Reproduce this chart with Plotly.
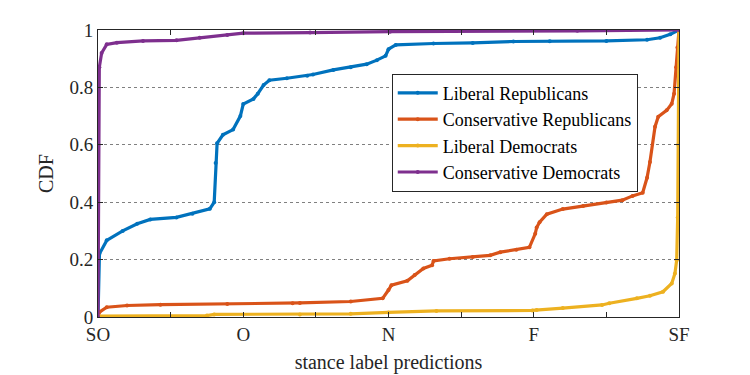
import plotly.graph_objects as go

# stance positions: SO=0, O=1, N=2, F=3, SF=4
tick_vals = [0, 0.5, 1, 1.5, 2, 2.5, 3, 3.5, 4]
tick_text = ['SO', '', 'O', '', 'N', '', 'F', '', 'SF']

lib_rep_x = [0, 0.01, 0.06, 0.17, 0.27, 0.36, 0.54, 0.65, 0.77, 0.80, 0.81, 0.82, 0.86, 0.93, 0.98,
             1.0, 1.07, 1.10, 1.14, 1.18, 1.30, 1.44, 1.48, 1.62, 1.74, 1.85, 1.92, 1.98, 2.0, 2.05,
             2.31, 2.58, 2.86, 3.11, 3.50, 3.78, 3.87, 3.94, 4.0]
lib_rep_y = [0.0, 0.22, 0.267, 0.30, 0.325, 0.34, 0.347, 0.36, 0.377, 0.40, 0.537, 0.605, 0.635, 0.653, 0.70,
             0.742, 0.76, 0.778, 0.808, 0.825, 0.832, 0.841, 0.845, 0.861, 0.87, 0.881, 0.895, 0.91, 0.933, 0.948,
             0.953, 0.955, 0.96, 0.961, 0.962, 0.966, 0.973, 0.985, 1.0]

con_rep_x = [0, 0.01, 0.06, 0.20, 0.43, 0.89, 1.34, 1.39, 1.74, 1.96, 2.0, 2.02, 2.13, 2.18, 2.24, 2.30,
             2.31, 2.42, 2.58, 2.70, 2.77, 2.88, 2.97, 3.01, 3.02, 3.04, 3.09, 3.20, 3.34, 3.50, 3.61,
             3.68, 3.75, 3.78, 3.80, 3.835, 3.857, 3.915, 3.95, 3.966, 3.98, 3.989, 4.0]
con_rep_y = [0.0, 0.017, 0.034, 0.04, 0.043, 0.045, 0.048, 0.049, 0.054, 0.065, 0.094, 0.111, 0.126, 0.146,
             0.169, 0.18, 0.195, 0.203, 0.209, 0.215, 0.226, 0.234, 0.243, 0.29, 0.312, 0.33, 0.358, 0.376,
             0.387, 0.399, 0.407, 0.422, 0.433, 0.485, 0.54, 0.663, 0.698, 0.72, 0.743, 0.778, 0.87, 0.939, 1.0]

lib_dem_x = [0, 0.75, 0.80, 1.39, 1.74, 2.0, 2.33, 2.99, 3.02, 3.20, 3.47, 3.52, 3.71, 3.80, 3.89,
             3.95, 3.972, 3.984, 3.991, 3.995, 4.0]
lib_dem_y = [0.003, 0.005, 0.009, 0.009, 0.011, 0.016, 0.021, 0.023, 0.024, 0.031, 0.042, 0.048, 0.065,
             0.074, 0.088, 0.117, 0.152, 0.198, 0.347, 0.6, 1.0]

con_dem_x = [0, 0.003, 0.009, 0.025, 0.06, 0.13, 0.31, 0.54, 0.70, 0.89, 1.0, 1.46, 2.01, 3.30, 4.0]
con_dem_y = [0.0, 0.6, 0.87, 0.92, 0.95, 0.956, 0.962, 0.964, 0.973, 0.983, 0.989, 0.991, 0.994, 0.997, 1.0]

series = [
    ('Liberal Republicans', lib_rep_x, lib_rep_y, '#0072BD'),
    ('Conservative Republicans', con_rep_x, con_rep_y, '#D95319'),
    ('Liberal Democrats', lib_dem_x, lib_dem_y, '#EDB120'),
    ('Conservative Democrats', con_dem_x, con_dem_y, '#7E2F8E'),
]

fig = go.Figure()
for name, xs, ys, col in series:
    fig.add_trace(go.Scatter(x=xs, y=ys, mode='lines+markers', name=name,
                             line=dict(color=col, width=3.2), marker=dict(size=4, color=col)))

font_family = 'Liberation Serif, Times New Roman, serif'
# page body adds an 8px offset, so margins are shifted by 8
fig.update_layout(
    width=750, height=375,
    margin=dict(l=90, r=79, t=20, b=66),
    plot_bgcolor='white', paper_bgcolor='white',
    font=dict(family=font_family, size=19, color='#262626'),
    legend=dict(x=0.929, y=0.848, xanchor='right', yanchor='top',
                bgcolor='white', bordercolor='#262626', borderwidth=1,
                font=dict(size=18, color='black'), tracegroupgap=0, itemwidth=40),
    showlegend=True,
)
fig.update_xaxes(range=[0, 4], tickvals=tick_vals, ticktext=tick_text,
                 ticks='inside', ticklen=5, tickcolor='#262626',
                 showline=True, linecolor='#262626', linewidth=1, mirror='ticks',
                 showgrid=False, zeroline=False,
                 title=dict(text='stance label predictions', font=dict(size=20), standoff=11))
fig.update_yaxes(range=[0, 1], tickvals=[0, 0.2, 0.4, 0.6, 0.8, 1],
                 ticktext=['0', '0.2', '0.4', '0.6', '0.8', '1'],
                 ticks='inside', ticklen=5, tickcolor='#262626',
                 showline=True, linecolor='#262626', linewidth=1, mirror='ticks',
                 showgrid=True, gridcolor='#808080', griddash='dot', gridwidth=1, zeroline=False,
                 title=dict(text='CDF', font=dict(size=20), standoff=10))

fig.write_html("out.html")
